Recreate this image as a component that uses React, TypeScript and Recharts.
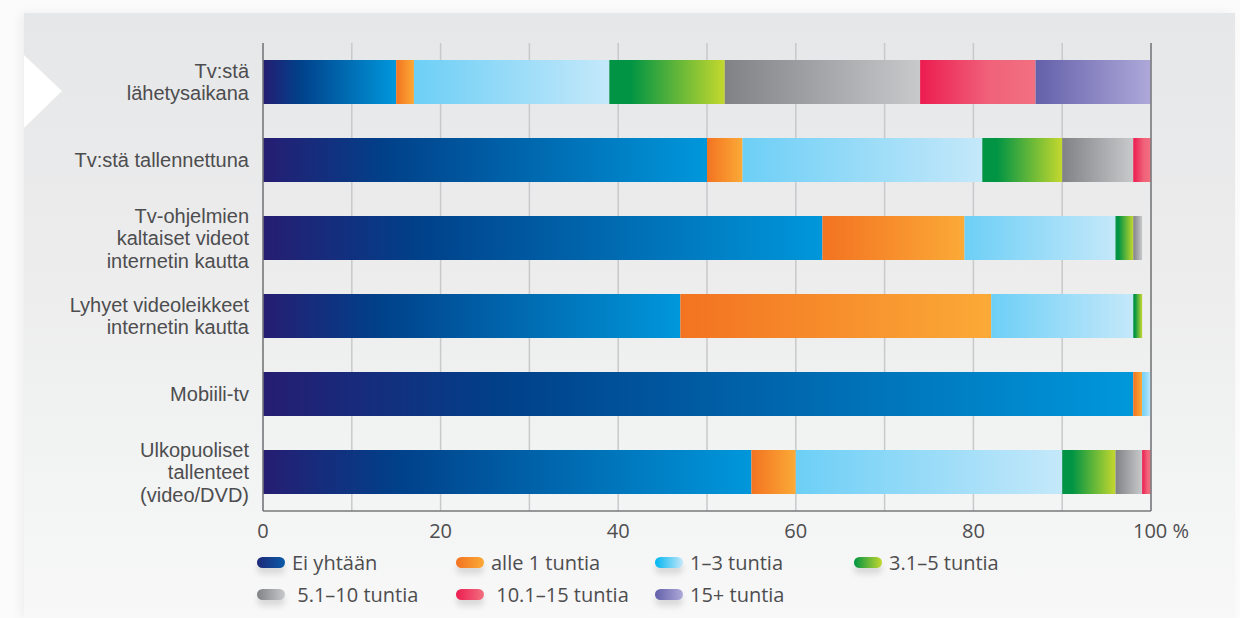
import React from "react";
import { BarChart, Bar, XAxis, YAxis, CartesianGrid, ReferenceLine } from "recharts";

// categories (line breaks as in the original labels)
const categories = [
  "Tv:stä\nlähetysaikana",
  "Tv:stä tallennettuna",
  "Tv-ohjelmien\nkaltaiset videot\ninternetin kautta",
  "Lyhyet videoleikkeet\ninternetin kautta",
  "Mobiili-tv",
  "Ulkopuoliset\ntallenteet\n(video/DVD)",
];

const seriesNames = [
  "Ei yhtään",
  "alle 1 tuntia",
  "1–3 tuntia",
  "3.1–5 tuntia",
  " 5.1–10 tuntia",
  " 10.1–15 tuntia",
  "15+ tuntia",
];

// shares in %, one array per series
const eiYhtaan = [15, 50, 63, 47, 98, 55];
const alle1 = [2, 4, 16, 35, 1, 5];
const tunnit1to3 = [22, 27, 17, 16, 1, 30];
const tunnit3to5 = [13, 9, 2, 1, 0, 6];
const tunnit5to10 = [22, 8, 1, 0, 0, 3];
const tunnit10to15 = [13, 2, 0, 0, 0, 1];
const tunnit15plus = [13, 0, 0, 0, 0, 0];

const seriesValues = [eiYhtaan, alle1, tunnit1to3, tunnit3to5, tunnit5to10, tunnit10to15, tunnit15plus];

const xTicks = [0, 10, 20, 30, 40, 50, 60, 70, 80, 90, 100];

// gradient stops per series [offset, colour]
const gradients: [number, string][][] = [
  [[0, "#261d72"], [0.28, "#00418a"], [1, "#0097db"]],
  [[0, "#f37321"], [1, "#fbaa37"]],
  [[0, "#6dcff6"], [1, "#c4e8fa"]],
  [[0, "#009444"], [0.18, "#009444"], [1, "#c4d82e"]],
  [[0, "#808285"], [1, "#c8c9cb"]],
  [[0, "#ec1c50"], [0.6, "#f0627a"], [1, "#f27080"]],
  [[0, "#6460aa"], [1, "#aea9d9"]],
];

// legend pills use slightly different ends
const legendSwatches = [
  ["#1f2a78", "#0a5aa8"],
  ["#f37321", "#fbaa37"],
  ["#00b6f0", "#c4e8fa"],
  ["#009444", "#c4d82e"],
  ["#808285", "#c8c9cb"],
  ["#ec1c50", "#f27080"],
  ["#6460aa", "#aea9d9"],
];

const textColor = "#4d4d4f";
const axisColor = "#77787b";
const labelFont = '"Liberation Sans", Arial, sans-serif';

const CategoryTick = (props: any) => {
  const { x, y, payload } = props;
  const lines = String(payload.value).split("\n");
  const lh = 22.5;
  return (
    <text x={x} y={y} textAnchor="end" fill={textColor} fontSize={20} fontFamily={labelFont}>
      {lines.map((l, i) => (
        <tspan key={i} x={x} y={y + 7 + (i - (lines.length - 1) / 2) * lh}>
          {l}
        </tspan>
      ))}
    </text>
  );
};

const ValueTick = (props: any) => {
  const { x, y, payload } = props;
  if (payload.value % 20 !== 0) return <g />;
  const last = payload.value === 100;
  return (
    <text
      x={last ? x - 18 : x}
      y={y + 19}
      textAnchor={last ? "start" : "middle"}
      fill={textColor}
      fontSize={20}
      fontFamily='"Open Sans", sans-serif'
    >
      {last ? "100 %" : payload.value}
    </text>
  );
};

export default function App() {
  const data = categories.map((name, i) => {
    const row: any = { name };
    seriesValues.forEach((vals, s) => (row["s" + s] = vals[i]));
    return row;
  });

  return (
    <div
      style={{
        position: "absolute",
        left: 0,
        top: 0,
        width: 1240,
        height: 618,
        background: "#fbfbfb",
        overflow: "hidden",
        fontFamily: '"Open Sans", sans-serif',
      }}
    >
      <div
        style={{
          position: "absolute",
          left: 24,
          top: 13,
          width: 1211,
          height: 605,
          background: "linear-gradient(#e6e7e8 0%, #ececed 40%, #f2f3f3 75%, #f8f8f8 100%)",
          boxShadow: "-4px 0 10px rgba(0,0,0,0.05)",
        }}
      />
      <svg style={{ position: "absolute", left: 0, top: 0 }} width={80} height={140}>
        <polygon points="24,55 62,91 24,128" fill="#ffffff" />
      </svg>

      <div style={{ position: "absolute", left: 0, top: 0 }}>
        <BarChart
          width={1240}
          height={618}
          data={data}
          layout="vertical"
          margin={{ top: 43, right: 89, bottom: 0, left: 0 }}
          barSize={44}
        >
          <defs>
            {gradients.map((stops, i) => (
              <linearGradient key={i} id={"grad" + i} x1="0" y1="0" x2="1" y2="0">
                {stops.map(([o, c], j) => (
                  <stop key={j} offset={o} stopColor={c} />
                ))}
              </linearGradient>
            ))}
          </defs>
          <CartesianGrid horizontal={false} stroke="#c8c9cb" strokeWidth={1.5} />
          <XAxis
            type="number"
            domain={[0, 100]}
            ticks={xTicks}
            interval={0}
            height={107}
            axisLine={{ stroke: axisColor, strokeWidth: 1.5 }}
            tickLine={false}
            tick={<ValueTick />}
          />
          <YAxis
            type="category"
            dataKey="name"
            width={263}
            interval={0}
            axisLine={{ stroke: axisColor, strokeWidth: 1.5 }}
            tickLine={false}
            tickSize={6}
            tickMargin={8}
            tick={<CategoryTick />}
          />
          {seriesNames.map((n, i) => (
            <Bar key={i} dataKey={"s" + i} name={n} stackId="a" fill={`url(#grad${i})`} isAnimationActive={false} />
          ))}
          <ReferenceLine x={100} stroke={axisColor} strokeWidth={1.5} />
        </BarChart>
      </div>

      <div
        style={{
          position: "absolute",
          left: 257,
          top: 552,
          display: "grid",
          gridTemplateColumns: "199px 199px 199px 199px",
          rowGap: 11,
        }}
      >
        {seriesNames.map((n, i) => (
          <div key={i} style={{ display: "flex", alignItems: "center", height: 21 }}>
            <div
              style={{
                width: 28,
                height: 11,
                borderRadius: 6,
                background: `linear-gradient(to right, ${legendSwatches[i][0]}, ${legendSwatches[i][1]})`,
                boxShadow: "0 6px 6px rgba(0,0,0,0.12)",
                marginRight: 7,
                flex: "none",
              }}
            />
            <span style={{ fontSize: 20, color: textColor, whiteSpace: "pre", lineHeight: "21px" }}>{n}</span>
          </div>
        ))}
      </div>
    </div>
  );
}
